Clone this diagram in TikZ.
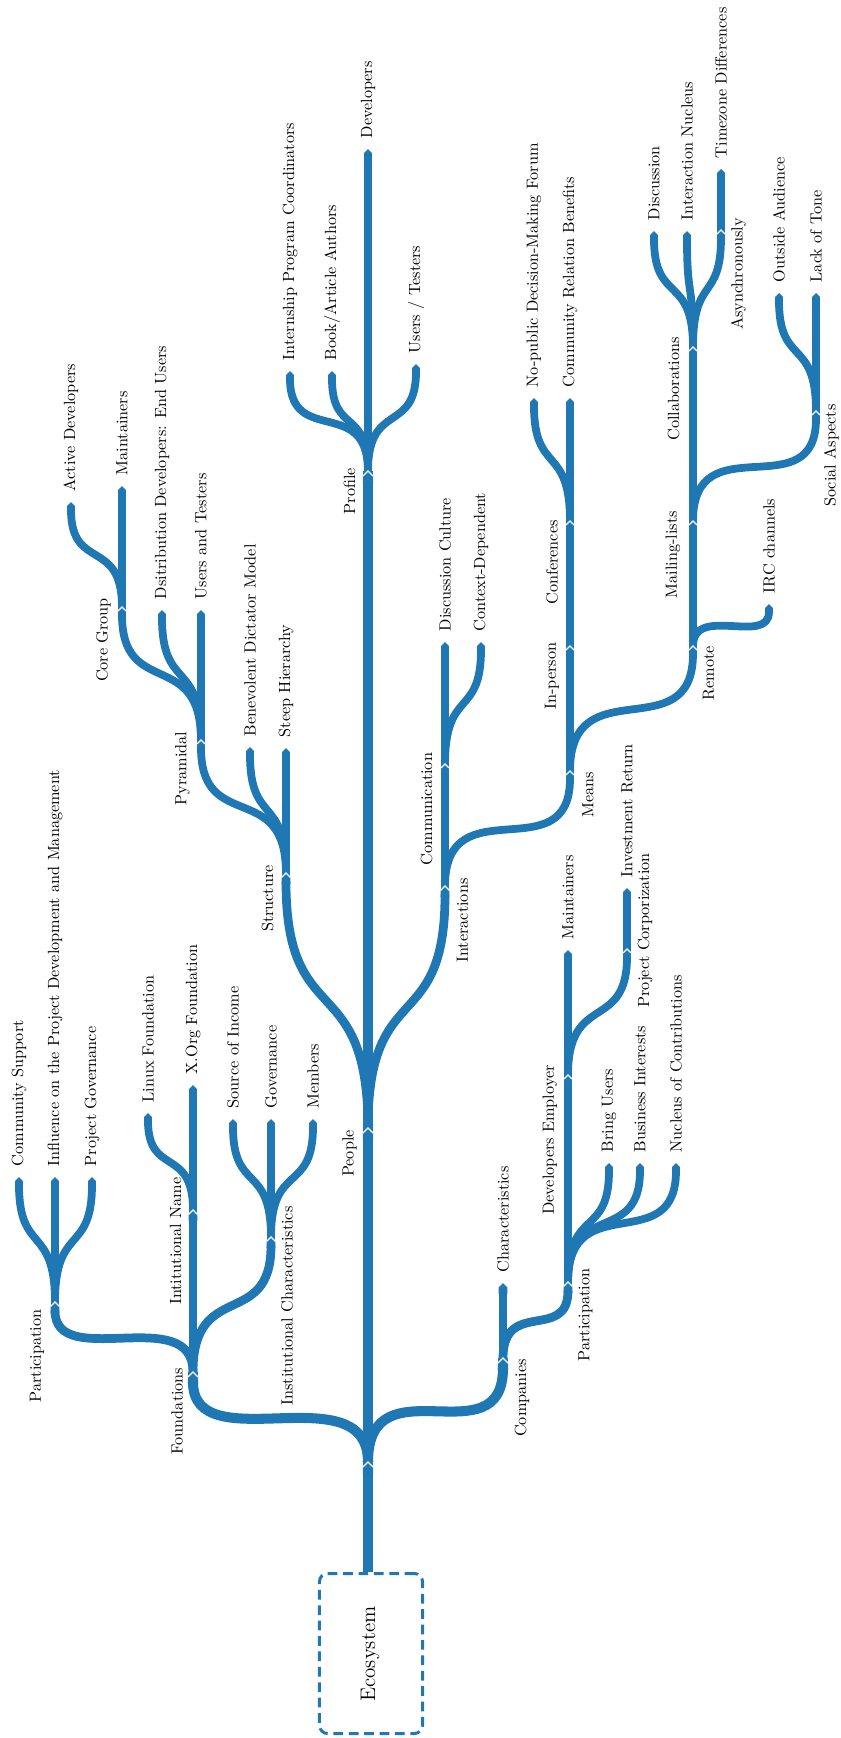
\documentclass[tikz,border=0pt]{standalone}
\usetikzlibrary{arrows.meta,calc}
\definecolor{treeblue}{RGB}{31,119,180}
% branch from #2 to #3 with width style #1: vertical at both ends,
% control length 0.6 of the chord, at most the rise
\newcommand\br[3]{\draw[edge,#1] let \p1=(#2), \p2=(#3),
  \n1={min(0.6*veclen(\x2-\x1,\y2-\y1),\y2-\y1)} in
  (#2) .. controls +(0pt,{1pt*\n1}) and +(0pt,{-1pt*\n1}) .. (#3);}
% fork mark: fills the shoulders of the incoming tip and outlines it in white
\newcommand\forkmark[2]{%
  \fill[treeblue] (#1) ++(-#2,0) rectangle ++({2*#2},#2);
  \draw[white,line width=0.7pt] (#1) ++(-#2,#2) -- (#1) -- ++(#2,#2);}
\begin{document}
\begin{tikzpicture}[x=0.617pt,y=-0.617pt,
  wA/.style={line width=6.2pt},
  wB/.style={line width=5.4pt},
  wC/.style={line width=4.8pt},
  edge/.style={draw=treeblue,-{Triangle Cap[]}},
  lbl/.style={rotate=90,inner sep=0pt,font=\normalsize},
  leaflbl/.style={lbl,anchor=west}]
\useasboundingbox (0,0) rectangle (841,1738);

% root box
\node[draw=treeblue,line width=1.85pt,dash pattern=on 6pt off 3.5pt,rounded corners=5pt,
      minimum width=63.6pt,minimum height=98.7pt,inner sep=0pt] (eco) at (371,1653.5) {};
\node[rotate=90,font=\fontsize{13}{15}\selectfont] (ecotext) at (370,1654) {Ecosystem};

% junctions and leaf tips
\coordinate (j0) at (368,1462);
\coordinate (fo) at (193,1372);
\coordinate (pe) at (368,1128);
\coordinate (co) at (503,1358);
\coordinate (pl) at (55,1302);
\coordinate (inm) at (193,1210);
\coordinate (ic) at (271,1237);
\coordinate (cs) at (19,1177);
\coordinate (ip) at (55,1177);
\coordinate (pg) at (92,1177);
\coordinate (lf) at (148,1113);
\coordinate (xo) at (193,1085);
\coordinate (si) at (233,1119);
\coordinate (gv) at (271,1119);
\coordinate (mb) at (313,1119);
\coordinate (st) at (286,873);
\coordinate (pr) at (368,471);
\coordinate (ia) at (445,886);
\coordinate (py) at (201,740);
\coordinate (bd) at (250,747);
\coordinate (sh) at (286,748);
\coordinate (cg) at (122,607);
\coordinate (dd) at (162,610);
\coordinate (ut) at (201,610);
\coordinate (ad) at (71,502);
\coordinate (ma) at (122,486);
\coordinate (ipc) at (290,371);
\coordinate (ba) at (332,371);
\coordinate (dv) at (368,149);
\coordinate (ust) at (416,364);
\coordinate (cm) at (445,764);
\coordinate (dc) at (445,642);
\coordinate (cd) at (481,642);
\coordinate (mn) at (570,771);
\coordinate (ipn) at (570,646);
\coordinate (cf) at (570,521);
\coordinate (np) at (534,398);
\coordinate (cr) at (570,398);
\coordinate (re) at (693,646);
\coordinate (ml) at (693,521);
\coordinate (irc) at (769,604);
\coordinate (cl) at (693,347);
\coordinate (sa) at (816,411);
\coordinate (di) at (654,231);
\coordinate (inu) at (687,231);
\coordinate (asy) at (721,230);
\coordinate (td) at (721,169);
\coordinate (oa) at (779,293);
\coordinate (lt) at (816,293);
\coordinate (ch) at (503,1283);
\coordinate (pa) at (568,1282);
\coordinate (de) at (568,1075);
\coordinate (bu) at (609,1163);
\coordinate (bi) at (640,1163);
\coordinate (nc) at (676,1163);
\coordinate (cmt) at (568,950);
\coordinate (pc) at (627,949);
\coordinate (ir) at (627,888);

% trunk and first level
\draw[edge,wA] (eco.north -| j0) -- (j0);
\br{wA}{j0}{fo}
\br{wA}{j0}{pe}
\br{wA}{j0}{co}
% foundations
\br{wB}{fo}{pl}
\br{wB}{fo}{inm}
\br{wB}{fo}{ic}
\br{wC}{pl}{cs}
\br{wC}{pl}{ip}
\br{wC}{pl}{pg}
\br{wC}{inm}{lf}
\br{wC}{inm}{xo}
\br{wC}{ic}{si}
\br{wC}{ic}{gv}
\br{wC}{ic}{mb}
% people
\br{wB}{pe}{st}
\br{wA}{pe}{pr}
\br{wB}{pe}{ia}
\br{wC}{st}{py}
\br{wC}{st}{bd}
\br{wC}{st}{sh}
\br{wC}{py}{cg}
\br{wC}{py}{dd}
\br{wC}{py}{ut}
\br{wC}{cg}{ad}
\br{wC}{cg}{ma}
\br{wC}{pr}{ipc}
\br{wC}{pr}{ba}
\br{wC}{pr}{dv}
\br{wC}{pr}{ust}
\br{wC}{ia}{cm}
\br{wC}{ia}{mn}
\br{wC}{cm}{dc}
\br{wC}{cm}{cd}
\br{wC}{mn}{ipn}
\br{wC}{mn}{re}
\br{wC}{ipn}{cf}
\br{wC}{cf}{np}
\br{wC}{cf}{cr}
\br{wC}{re}{ml}
\br{wC}{re}{irc}
\br{wC}{ml}{cl}
\br{wC}{ml}{sa}
\br{wC}{cl}{di}
\br{wC}{cl}{inu}
\br{wC}{cl}{asy}
\br{wC}{asy}{td}
\br{wC}{sa}{oa}
\br{wC}{sa}{lt}
% companies
\br{wB}{co}{ch}
\br{wB}{co}{pa}
\br{wC}{pa}{de}
\br{wC}{pa}{bu}
\br{wC}{pa}{bi}
\br{wC}{pa}{nc}
\br{wC}{de}{cmt}
\br{wC}{de}{pc}
\br{wC}{pc}{ir}

% fork marks
\forkmark{j0}{5}
\forkmark{fo}{5}
\forkmark{pe}{5}
\forkmark{co}{5}
\forkmark{pl}{4.4}
\forkmark{inm}{4.4}
\forkmark{ic}{4.4}
\forkmark{st}{4.4}
\forkmark{pr}{5}
\forkmark{ia}{4.4}
\forkmark{pa}{4.4}
\foreach \f in {py,cg,cm,mn,ipn,cf,re,ml,cl,sa,asy,de,pc} {\forkmark{\f}{3.9}}

% labels of inner nodes
\node[lbl] (l-fo) at (177,1411) {Foundations};
\node[lbl] (l-pl) at (37,1356) {Participation};
\node[lbl] (l-inm) at (175.5,1241) {Intitutional Name};
\node[lbl] (l-ic) at (287,1306) {Institutional Characteristics};
\node[lbl] (l-pe) at (349.5,1153.5) {People};
\node[lbl] (l-st) at (267.5,898.5) {Structure};
\node[lbl] (l-py) at (182.5,768.5) {Pyramidal};
\node[lbl] (l-cg) at (103.5,640) {Core Group};
\node[lbl] (l-pr) at (349.5,491) {Profile};
\node[lbl] (l-ia) at (462.5,920.5) {Interactions};
\node[lbl] (l-cm) at (426.5,809) {Communication};
\node[lbl] (l-mn) at (588,794.5) {Means};
\node[lbl] (l-ipn) at (552,676) {In-person};
\node[lbl] (l-cf) at (552,562.5) {Conferences};
\node[lbl] (l-re) at (708.5,673) {Remote};
\node[lbl] (l-ml) at (673,554.5) {Mailing-lists};
\node[lbl] (l-cl) at (673.5,389) {Collaborations};
\node[lbl] (l-asy) at (738.5,274) {Asynchronously};
\node[lbl] (l-sa) at (831.5,455.5) {Social Aspects};
\node[lbl] (l-co) at (522,1398) {Companies};
\node[lbl] (l-pa) at (585.5,1315) {Participation};
\node[lbl] (l-de) at (550,1140) {Developers Employer};
\node[lbl] (l-pc) at (645,930.5) {Project Corporization};

% labels of leaves
\node[leaflbl] (l-cs) at (19,1166.5) {Community Support};
\node[leaflbl] (l-ip) at (55,1166.5) {Influence on the Project Development and Management};
\node[leaflbl] (l-pg) at (92,1166.5) {Project Governance};
\node[leaflbl] (l-lf) at (148,1102.5) {Linux Foundation};
\node[leaflbl] (l-xo) at (193,1074.5) {X.Org Foundation};
\node[leaflbl] (l-si) at (233,1108.5) {Source of Income};
\node[leaflbl] (l-gv) at (271,1108.5) {Governance};
\node[leaflbl] (l-mb) at (313,1108.5) {Members};
\node[leaflbl] (l-bd) at (250,736.5) {Benevolent Dictator Model};
\node[leaflbl] (l-sh) at (286,737.5) {Steep Hierarchy};
\node[leaflbl] (l-dd) at (162,599.5) {Dsitribution Developers: End Users};
\node[leaflbl] (l-ut) at (201,599.5) {Users and Testers};
\node[leaflbl] (l-ad) at (71,491.5) {Active Developers};
\node[leaflbl] (l-ma) at (122,475.5) {Maintainers};
\node[leaflbl] (l-ipc) at (290,360.5) {Internship Program Coordinators};
\node[leaflbl] (l-ba) at (332,360.5) {Book/Article Authors};
\node[leaflbl] (l-dv) at (368,138.5) {Developers};
\node[leaflbl] (l-ust) at (416,353.5) {Users / Testers};
\node[leaflbl] (l-dc) at (445,631.5) {Discussion Culture};
\node[leaflbl] (l-cd) at (481,631.5) {Context-Dependent};
\node[leaflbl] (l-np) at (534,387.5) {No-public Decision-Making Forum};
\node[leaflbl] (l-cr) at (570,387.5) {Community Relation Benefits};
\node[leaflbl] (l-irc) at (769,593.5) {IRC channels};
\node[leaflbl] (l-di) at (654,220.5) {Discussion};
\node[leaflbl] (l-inu) at (687,220.5) {Interaction Nucleus};
\node[leaflbl] (l-td) at (721,158.5) {Timezone Differences};
\node[leaflbl] (l-oa) at (779,282.5) {Outside Audience};
\node[leaflbl] (l-lt) at (816,282.5) {Lack of Tone};
\node[leaflbl] (l-ch) at (503,1272.5) {Characteristics};
\node[leaflbl] (l-bu) at (609,1152.5) {Bring Users};
\node[leaflbl] (l-bi) at (640,1152.5) {Business Interests};
\node[leaflbl] (l-nc) at (676,1152.5) {Nucleus of Contributions};
\node[leaflbl] (l-cmt) at (568,939.5) {Maintainers};
\node[leaflbl] (l-ir) at (627,877.5) {Investment Return};
\end{tikzpicture}
\end{document}
